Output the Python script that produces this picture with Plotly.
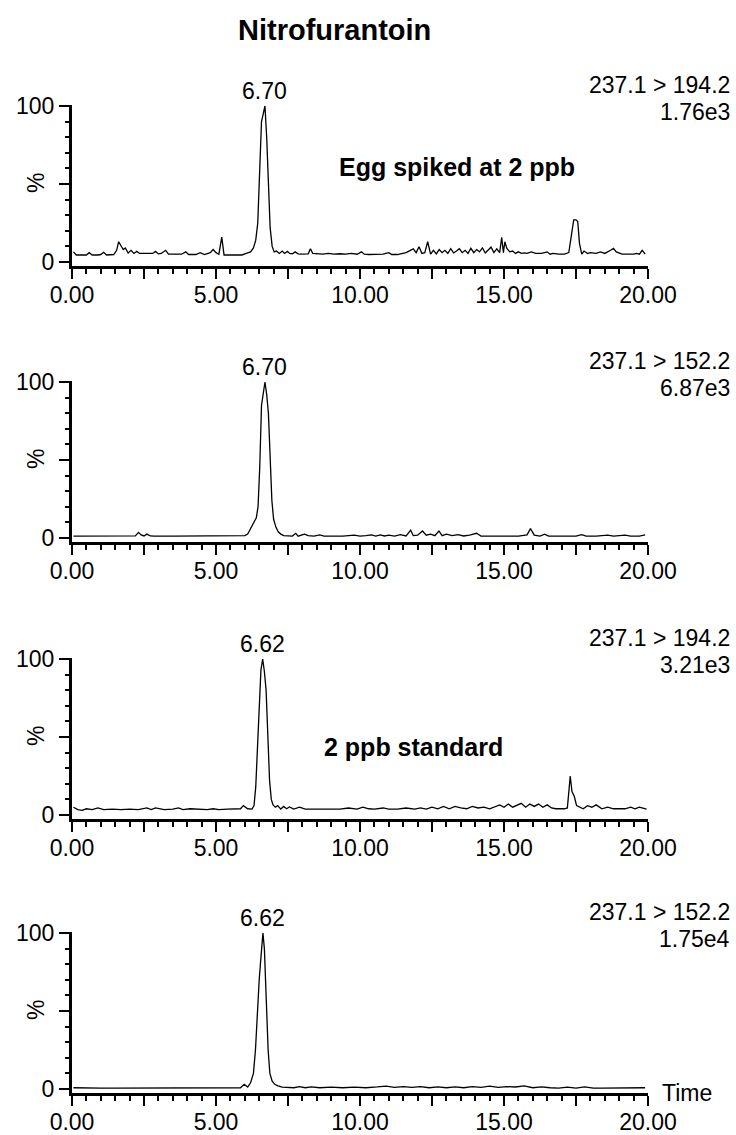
import plotly.graph_objects as go

# ---------------- data ----------------
title_text = "Nitrofurantoin"
peak_labels = ["6.70", "6.70", "6.62", "6.62"]
peak_times = [6.70, 6.70, 6.62, 6.62]
transitions = ["237.1 > 194.2", "237.1 > 152.2", "237.1 > 194.2", "237.1 > 152.2"]
scales = ["1.76e3", "6.87e3", "3.21e3", "1.75e4"]
x_tickvals = [0, 2.5, 5, 7.5, 10, 12.5, 15, 17.5, 20]
x_ticktext = ["0.00", "", "5.00", "", "10.00", "", "15.00", "", "20.00"]
y_tickvals = [0, 50, 100]
y_ticktext = ["0", "", "100"]

# Panel 1: egg spiked at 2 ppb, 237.1 > 194.2
t1 = [0.05, 0.15, 0.30, 0.50, 0.60, 0.70, 0.90, 1.00, 1.10, 1.20,
      1.45, 1.55, 1.62, 1.70, 1.78, 1.85, 1.95, 2.05, 2.15, 2.25,
      2.35, 2.45, 2.80, 2.90, 3.00, 3.10, 3.25, 3.35, 3.45, 3.80,
      3.95, 4.05, 4.30, 4.45, 4.60, 4.80, 4.90, 5.00, 5.10, 5.20,
      5.28, 5.40, 5.90, 6.05, 6.20, 6.30, 6.38, 6.45, 6.52, 6.58,
      6.64, 6.70, 6.76, 6.82, 6.88, 6.95, 7.02, 7.10, 7.20, 7.30,
      7.38, 7.48, 7.56, 7.65, 7.75, 7.85, 7.95, 8.20, 8.28, 8.36,
      8.50, 8.70, 8.90, 9.10, 9.30, 9.50, 9.70, 9.90, 10.05, 10.15,
      10.30, 10.60, 10.80, 11.00, 11.10, 11.30, 11.60, 11.75, 11.85, 11.95,
      12.05, 12.15, 12.25, 12.35, 12.45, 12.55, 12.65, 12.75, 12.85, 12.95,
      13.05, 13.15, 13.25, 13.35, 13.45, 13.55, 13.65, 13.75, 13.85, 13.95,
      14.05, 14.15, 14.25, 14.35, 14.45, 14.55, 14.65, 14.75, 14.85, 14.92,
      14.98, 15.03, 15.10, 15.20, 15.30, 15.40, 15.50, 15.60, 15.70, 15.80,
      15.95, 16.10, 16.30, 16.50, 16.60, 16.70, 16.90, 17.10, 17.25, 17.35,
      17.42, 17.50, 17.56, 17.62, 17.70, 17.78, 17.90, 18.00, 18.20, 18.35,
      18.50, 18.70, 18.80, 18.90, 19.10, 19.30, 19.50, 19.60, 19.70, 19.80,
      19.90]
i1 = [6.5, 4.5, 4.5, 4.5, 6.0, 4.5, 4.5, 4.8, 6.2, 4.5,
      4.8, 7.5, 13.0, 10.5, 8.0, 9.0, 5.8, 7.5, 5.5, 6.8,
      5.5, 5.5, 5.5, 6.8, 5.2, 5.5, 7.5, 5.0, 5.0, 5.0,
      6.5, 4.8, 4.8, 6.0, 4.8, 6.0, 8.0, 6.0, 5.0, 16.0,
      4.5, 4.5, 4.5, 5.5, 6.5, 9.0, 14.0, 25.0, 55.0, 90.0,
      95.0, 100.0, 80.0, 46.0, 22.0, 10.0, 6.5, 7.0, 5.5, 7.0,
      5.5, 6.8, 5.5, 5.2, 6.5, 5.2, 5.0, 5.2, 8.5, 5.5,
      5.2, 5.0, 5.5, 5.0, 5.3, 5.0, 5.5, 5.0, 6.5, 5.0,
      4.8, 4.8, 5.0, 6.0, 4.8, 4.8, 6.0, 7.5, 8.5, 6.0,
      9.8, 5.5, 6.0, 13.0, 5.0, 7.5, 5.2, 8.0, 6.0, 7.5,
      5.5, 8.5, 5.8, 7.0, 8.5, 6.0, 7.5, 5.5, 8.8, 6.0,
      8.0, 6.5, 9.0, 5.8, 7.5, 9.5, 6.0, 8.5, 6.0, 15.8,
      6.0, 13.0, 8.7, 6.5, 7.0, 5.5, 6.5, 5.5, 5.8, 5.5,
      6.5, 5.5, 5.5, 6.5, 5.0, 5.5, 5.0, 5.0, 6.0, 18.0,
      27.0, 27.0, 26.0, 12.0, 5.0, 7.0, 5.5, 6.0, 5.5, 6.5,
      5.5, 7.5, 8.7, 6.5, 5.0, 5.0, 5.0, 5.5, 5.0, 7.5,
      5.0]

# Panel 2: egg spiked at 2 ppb, 237.1 > 152.2
t2 = [0.05, 0.50, 1.00, 1.50, 2.00, 2.20, 2.31, 2.40, 2.50, 2.60,
      2.72, 2.85, 3.50, 4.00, 4.50, 5.00, 5.50, 5.90, 6.00, 6.10,
      6.20, 6.30, 6.40, 6.46, 6.52, 6.58, 6.64, 6.70, 6.76, 6.82,
      6.88, 6.94, 7.00, 7.08, 7.16, 7.25, 7.35, 7.50, 7.65, 7.77,
      7.85, 8.07, 8.20, 8.40, 8.60, 8.75, 9.00, 9.40, 9.80, 10.00,
      10.20, 10.40, 10.55, 10.70, 10.85, 11.00, 11.20, 11.40, 11.60, 11.76,
      11.85, 12.00, 12.17, 12.30, 12.45, 12.60, 12.74, 12.85, 13.00, 13.20,
      13.40, 13.60, 13.80, 14.05, 14.20, 14.50, 15.00, 15.50, 15.80, 15.92,
      16.05, 16.25, 16.41, 16.55, 17.00, 17.50, 17.70, 17.85, 18.20, 18.60,
      18.80, 19.20, 19.40, 19.70, 19.90]
i2 = [1.2, 1.2, 1.2, 1.2, 1.2, 1.3, 3.6, 2.0, 1.3, 2.5,
      1.3, 1.2, 1.2, 1.2, 1.2, 1.2, 1.2, 1.2, 1.5, 2.5,
      6.0, 9.0, 13.0, 20.0, 46.0, 85.0, 92.0, 100.0, 92.0, 80.0,
      52.0, 24.0, 12.0, 7.0, 4.0, 2.5, 1.5, 1.2, 1.2, 3.0,
      1.2, 2.5, 1.5, 1.2, 2.0, 1.2, 1.2, 1.2, 1.8, 1.2,
      1.5, 2.0, 1.2, 2.0, 1.3, 1.8, 1.2, 2.2, 1.3, 5.0,
      1.5, 1.8, 4.5, 1.8, 2.5, 1.5, 4.5, 1.5, 2.5, 1.5,
      2.2, 1.3, 1.8, 3.0, 1.2, 1.2, 1.2, 1.2, 2.0, 6.0,
      1.8, 1.2, 2.5, 1.2, 1.2, 1.2, 2.2, 1.2, 1.2, 1.8,
      1.2, 1.8, 1.2, 1.2, 2.0]

# Panel 3: 2 ppb standard, 237.1 > 194.2
t3 = [0.05, 0.20, 0.35, 0.50, 0.70, 0.90, 1.10, 1.40, 1.70, 2.00,
      2.30, 2.60, 2.75, 2.90, 3.20, 3.50, 3.70, 3.85, 4.10, 4.40,
      4.70, 4.90, 5.10, 5.40, 5.70, 5.85, 5.95, 6.10, 6.25, 6.32,
      6.38, 6.44, 6.50, 6.56, 6.62, 6.68, 6.74, 6.80, 6.86, 6.92,
      6.98, 7.06, 7.14, 7.25, 7.35, 7.45, 7.55, 7.70, 7.90, 8.10,
      8.40, 8.70, 9.00, 9.30, 9.60, 9.90, 10.10, 10.30, 10.50, 10.80,
      11.00, 11.30, 11.60, 11.90, 12.10, 12.30, 12.50, 12.70, 12.90, 13.10,
      13.30, 13.50, 13.70, 13.90, 14.10, 14.30, 14.50, 14.70, 14.85, 15.00,
      15.15, 15.30, 15.45, 15.60, 15.75, 15.90, 16.05, 16.20, 16.35, 16.50,
      16.65, 16.80, 16.95, 17.10, 17.20, 17.26, 17.30, 17.36, 17.44, 17.52,
      17.62, 17.75, 17.90, 18.05, 18.20, 18.40, 18.60, 18.80, 19.00, 19.20,
      19.40, 19.55, 19.70, 19.85, 19.95]
i3 = [5.0, 3.5, 3.0, 4.0, 3.5, 4.5, 3.5, 3.8, 3.5, 3.8,
      3.5, 4.5, 3.5, 4.5, 3.5, 3.8, 4.5, 3.5, 4.0, 3.8,
      3.5, 4.0, 3.5, 3.8, 3.8, 4.0, 6.0, 4.0, 3.8, 6.0,
      18.0, 45.0, 70.0, 93.0, 100.0, 92.0, 80.0, 52.0, 22.0, 10.0,
      6.5, 5.0, 6.0, 3.8, 5.5, 4.0, 5.2, 3.8, 5.0, 3.8,
      3.8, 4.0, 3.8, 3.8, 4.5, 3.8, 5.0, 4.0, 3.8, 4.5,
      3.8, 3.8, 4.5, 3.8, 4.5, 3.8, 5.0, 4.0, 5.5, 4.0,
      5.5, 4.5, 4.0, 5.5, 4.5, 5.0, 4.0, 5.5, 6.5, 5.0,
      7.0, 5.0, 6.5, 7.5, 5.0, 7.0, 5.5, 7.0, 5.0, 6.5,
      4.5, 4.0, 4.0, 4.0, 4.5, 15.0, 25.0, 15.0, 12.0, 6.0,
      5.0, 4.0, 6.0, 5.0, 6.5, 4.0, 5.0, 4.0, 4.0, 4.0,
      5.0, 4.0, 5.0, 4.5, 3.8]

# Panel 4: 2 ppb standard, 237.1 > 152.2
t4 = [0.05, 0.50, 1.00, 1.50, 2.00, 2.50, 3.00, 3.50, 4.00, 4.50,
      5.00, 5.50, 5.85, 5.98, 6.10, 6.20, 6.30, 6.37, 6.43, 6.50,
      6.55, 6.60, 6.63, 6.68, 6.72, 6.76, 6.81, 6.87, 6.95, 7.04,
      7.15, 7.30, 7.50, 7.70, 7.90, 8.10, 8.30, 8.60, 9.00, 9.40,
      9.80, 10.20, 10.60, 10.90, 11.20, 11.50, 11.80, 12.10, 12.40, 12.70,
      13.00, 13.30, 13.60, 13.90, 14.20, 14.50, 14.80, 15.10, 15.40, 15.70,
      16.00, 16.30, 16.60, 16.90, 17.20, 17.50, 17.80, 18.10, 18.40, 18.70,
      19.00, 19.30, 19.60, 19.90]
i4 = [0.8, 0.5, 0.5, 0.5, 0.5, 0.5, 0.5, 0.5, 0.5, 0.5,
      0.5, 0.5, 0.8, 3.0, 1.2, 4.0, 10.0, 25.0, 50.0, 70.0,
      82.0, 92.0, 100.0, 90.0, 72.0, 50.0, 25.0, 10.0, 5.0, 3.0,
      2.0, 1.2, 1.0, 0.8, 1.5, 0.8, 1.3, 0.8, 1.2, 0.8,
      1.2, 0.8, 1.3, 1.8, 1.0, 1.5, 1.0, 1.5, 0.8, 1.3,
      0.8, 1.3, 0.8, 1.5, 1.0, 1.8, 1.0, 1.5, 1.3, 2.0,
      0.8, 1.3, 0.8, 0.6, 1.2, 0.6, 1.3, 0.5, 0.5, 0.5,
      0.5, 0.5, 0.5, 0.8]

series_t = [t1, t2, t3, t4]
series_i = [i1, i2, i3, i4]
sample_labels = {0: "Egg spiked at 2 ppb", 2: "2 ppb standard"}

# ---------------- layout geometry (pixels) ----------------
W, H = 736, 1135
X0_PX, X20_PX = 72, 648
ZERO_PX = [262, 538, 815, 1089]
PX_PER = 1.56
Y_LO, Y_HI = -2.6, 100.6

def fx(px):
    return px / W

def fy(py):
    return 1 - py / H

FONT = "Liberation Sans, Arial, sans-serif"
fig = go.Figure()
annotations = []

for k in range(4):
    s = "" if k == 0 else str(k + 1)
    y0 = ZERO_PX[k]
    fig.add_trace(go.Scatter(
        x=series_t[k], y=series_i[k], mode="lines",
        line=dict(color="black", width=1.3),
        xaxis="x" + s, yaxis="y" + s, showlegend=False, hoverinfo="skip"))
    bottom_px = y0 - Y_LO * PX_PER
    top_px = y0 - Y_HI * PX_PER
    fig.layout["xaxis" + s] = dict(
        domain=[fx(X0_PX), fx(X20_PX)], anchor="y" + s, range=[0, 20],
        automargin=False,
        showline=True, linecolor="black", linewidth=3, showgrid=False,
        zeroline=False, ticks="outside", ticklen=10, tickwidth=1.5,
        tickcolor="black", tickvals=x_tickvals, ticktext=x_ticktext,
        tickfont=dict(family=FONT, size=23, color="black"),
        ticklabelstandoff=-4,
        minor=dict(dtick=0.5, ticks="outside", ticklen=5, tickwidth=1.5,
                   tickcolor="black", showgrid=False),
        fixedrange=True)
    fig.layout["yaxis" + s] = dict(
        domain=[fy(bottom_px), fy(top_px)], anchor="x" + s,
        range=[Y_LO, Y_HI], automargin=False,
        showline=True, linecolor="black", linewidth=3, showgrid=False,
        zeroline=False, ticks="outside", ticklen=10, tickwidth=1.5,
        tickcolor="black", tickvals=y_tickvals, ticktext=y_ticktext,
        tickfont=dict(family=FONT, size=23, color="black"),
        minor=dict(dtick=10, ticks="outside", ticklen=4, tickwidth=1.5,
                   tickcolor="black", showgrid=False),
        fixedrange=True)
    # peak retention time label
    annotations.append(dict(
        x=peak_times[k], y=100, xref="x" + s, yref="y" + s,
        text=peak_labels[k], showarrow=False, yanchor="bottom", yshift=0,
        font=dict(family=FONT, size=23, color="black")))
    # transition and intensity labels
    annotations.append(dict(
        x=fx(732), y=fy(y0 - 177), xref="paper", yref="paper",
        text=transitions[k], showarrow=False, xanchor="right", yanchor="middle",
        font=dict(family=FONT, size=23, color="black")))
    annotations.append(dict(
        x=fx(732), y=fy(y0 - 150), xref="paper", yref="paper",
        text=scales[k], showarrow=False, xanchor="right", yanchor="middle",
        font=dict(family=FONT, size=23, color="black")))
    # % axis label
    annotations.append(dict(
        x=fx(36), y=fy(y0 - 79), xref="paper", yref="paper",
        text="%", showarrow=False, textangle=-90,
        xanchor="center", yanchor="middle",
        font=dict(family=FONT, size=23, color="black")))

# sample description labels
annotations.append(dict(
    x=fx(337), y=fy(167), xref="paper", yref="paper",
    text="<b>" + sample_labels[0] + "</b>", showarrow=False,
    xanchor="left", yanchor="middle",
    font=dict(family=FONT, size=25, color="black")))
annotations.append(dict(
    x=fx(322), y=fy(747), xref="paper", yref="paper",
    text="<b>" + sample_labels[2] + "</b>", showarrow=False,
    xanchor="left", yanchor="middle",
    font=dict(family=FONT, size=25, color="black")))
# title
annotations.append(dict(
    x=fx(334), y=fy(30), xref="paper", yref="paper",
    text="<b>" + title_text + "</b>", showarrow=False,
    xanchor="center", yanchor="middle",
    font=dict(family=FONT, size=29, color="black")))
# Time label
annotations.append(dict(
    x=fx(660), y=fy(1093), xref="paper", yref="paper",
    text="Time", showarrow=False, xanchor="left", yanchor="middle",
    font=dict(family=FONT, size=23, color="black")))

fig.update_layout(
    width=W, height=H, margin=dict(l=0, r=0, t=0, b=0),
    paper_bgcolor="white", plot_bgcolor="white",
    annotations=annotations, showlegend=False)

fig.write_html(
    "out.html",
    config={"displayModeBar": False},
    post_script="document.body.style.margin='0';"
                "document.body.style.overflow='hidden';")
